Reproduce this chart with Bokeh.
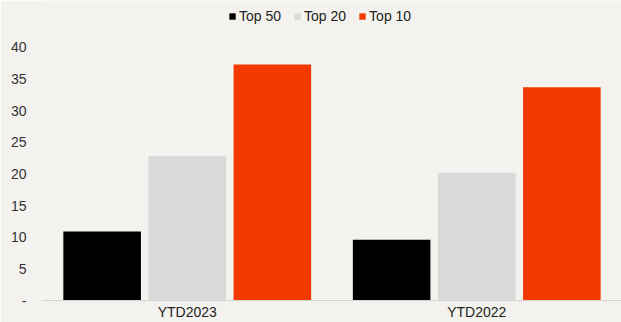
from bokeh.plotting import figure
from bokeh.models import FactorRange, Range1d, Legend, LegendItem, ColumnDataSource
from bokeh.transform import dodge
from bokeh.embed import file_html
from bokeh.resources import INLINE

categories = ["YTD2023", "YTD2022"]
series_names = ["Top 50", "Top 20", "Top 10"]
top50 = [10.9, 9.6]
top20 = [22.8, 20.2]
top10 = [37.3, 33.7]
y_ticks = [0, 5, 10, 15, 20, 25, 30, 35, 40]
y_tick_labels = ["-", "5", "10", "15", "20", "25", "30", "35", "40"]

colors = ["#000000", "#d9d9d9", "#f23a00"]
offsets = [-0.294, 0.0, 0.294]
BG = "#f3f2ee"
FONT = "Liberation Sans"

src = ColumnDataSource(dict(cat=categories, s0=top50, s1=top20, s2=top10))

p = figure(width=621, height=322, output_backend="svg", toolbar_location=None,
           x_range=FactorRange(factors=categories, range_padding=0),
           y_range=Range1d(0, 47.4),
           min_border_left=42, min_border_right=0, min_border_top=0, min_border_bottom=0)
p.background_fill_color = BG
p.border_fill_color = BG
p.outline_line_color = None
p.grid.grid_line_color = None

renderers = []
for i, key in enumerate(["s0", "s1", "s2"]):
    r = p.vbar(x=dodge("cat", offsets[i], range=p.x_range), top=key, width=0.268,
               source=src, fill_color=colors[i], line_color=None)
    renderers.append(r)

p.yaxis.ticker = y_ticks
p.yaxis.major_label_overrides = {t: l for t, l in zip(y_ticks, y_tick_labels)}
p.yaxis.axis_line_color = None
p.yaxis.major_tick_line_color = None
p.yaxis.minor_tick_line_color = None
p.yaxis.major_tick_out = 0
p.yaxis.major_label_standoff = 16
p.yaxis.major_label_text_font = FONT
p.yaxis.major_label_text_font_size = "14px"
p.yaxis.major_label_text_color = "#333333"

p.xaxis.axis_line_color = "#d0d0d0"
p.xaxis.axis_line_width = 1
p.xaxis.major_tick_line_color = None
p.xaxis.minor_tick_line_color = None
p.xaxis.major_tick_out = 0
p.xaxis.major_label_standoff = 3
p.xaxis.major_label_text_font = FONT
p.xaxis.major_label_text_font_size = "14px"
p.xaxis.major_label_text_color = "#222222"

legend = Legend(items=[LegendItem(label=n, renderers=[r]) for n, r in zip(series_names, renderers)],
                orientation="horizontal", location=(186, 276),
                glyph_width=8, glyph_height=8, label_standoff=3, spacing=12,
                padding=0, margin=0, border_line_color=None, background_fill_alpha=0,
                label_text_font=FONT, label_text_font_size="14px", label_text_color="#222222",
                label_height=14)
p.add_layout(legend)

open("out.html", "w").write(file_html(p, INLINE))
